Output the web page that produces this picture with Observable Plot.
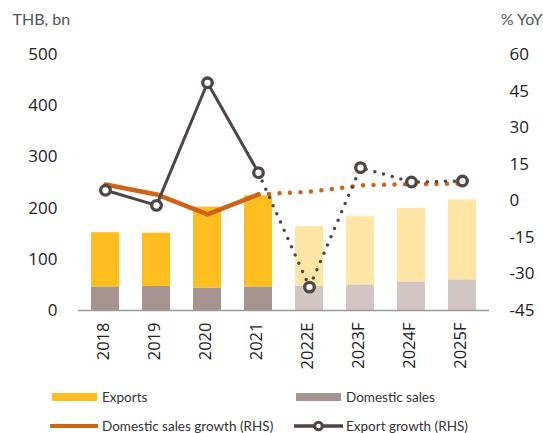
<!DOCTYPE html>
<html><head><meta charset="utf-8">
<script src="https://cdn.jsdelivr.net/npm/d3@7"></script>
<script src="https://cdn.jsdelivr.net/npm/@observablehq/plot@0.6"></script>
<style>
body{margin:0;background:#fff;font-family:Lato, "Noto Sans", sans-serif;}
#chart{width:543px;height:433px;position:relative;overflow:hidden;}
.legend{position:relative;height:53px;font-size:13.5px;color:#333;}
.item{position:absolute;height:20px;display:flex;align-items:center;white-space:nowrap;}
.sw{display:inline-block;margin-right:5px;}
</style></head><body><div id="chart"></div>
<script>
const years = ["2018","2019","2020","2021","2022E","2023F","2024F","2025F"];
const forecast = [false,false,false,false,true,true,true,true];
const exportsBn = [106,104,158,178,117,133,143,156];
const domesticBn = [46,47,44,46,47,50,56,60];
const domesticGrowth = [6.7,2.6,-5.6,2.6,3.7,6.3,6.8,7.0];
const exportGrowth = [4.3,-1.9,48.4,11.5,-35.4,13.6,7.7,8.1];
const leftTicks = [0,100,200,300,400,500];
const rightTicks = [-45,-30,-15,0,15,30,45,60];
const seriesNames = ["Exports","Domestic sales","Domestic sales growth (RHS)","Export growth (RHS)"];

const C = {exp:"#FEBE20", expF:"#FFE6A6", dom:"#A69490", domF:"#D3C5C3", orange:"#CF6317", dark:"#4F4646"};
const lMax = leftTicks[leftTicks.length-1], rMin = rightTicks[0], rMax = rightTicks[rightTicks.length-1];
const toLeft = v => (v - rMin) / (rMax - rMin) * lMax;
const toRight = v => Math.round(v / lMax * (rMax - rMin) + rMin);

const rows = years.map((year,i)=>({year, fc:forecast[i], exp:exportsBn[i], dom:domesticBn[i],
  dg:toLeft(domesticGrowth[i]), eg:toLeft(exportGrowth[i]), i}));
const actual = rows.filter(d=>d.i<=3), proj = rows.filter(d=>d.i>=3);
const tickFont = "'Open Sans', sans-serif";

const plot = Plot.plot({
  width:543, height:380,
  marginLeft:78, marginRight:54, marginTop:54, marginBottom:70,
  style:{fontFamily:"Lato, 'Noto Sans', sans-serif", fontSize:"16px", color:"#222", background:"#fff"},
  x:{domain:years, paddingInner:0.455, paddingOuter:0.22},
  y:{domain:[0,lMax]},
  color:{type:"identity"},
  marks:[
    Plot.barY(rows,{x:"year", y1:0, y2:"dom", fill:d=>d.fc?C.domF:C.dom}),
    Plot.barY(rows,{x:"year", y1:"dom", y2:d=>d.dom+d.exp, fill:d=>d.fc?C.expF:C.exp}),
    Plot.ruleY([0],{stroke:"#9a9a9a", strokeWidth:1.5}),
    Plot.axisY({anchor:"left", ticks:leftTicks, tickSize:0, tickPadding:21, label:null, fontSize:17, fontFamily:tickFont, fill:"#222"}),
    Plot.axisY({anchor:"right", ticks:rightTicks.map(toLeft), tickFormat:d=>`${toRight(d)}`, tickSize:0, tickPadding:20, label:null, fontSize:17, fontFamily:tickFont, fill:"#222"}),
    Plot.axisX({tickRotate:-90, tickSize:0, tickPadding:12, dx:-2, label:null, fontSize:16.5, fontFamily:tickFont, fill:"#222"}),
    Plot.line(actual,{x:"year", y:"dg", stroke:C.orange, strokeWidth:4.5}),
    Plot.line(proj,{x:"year", y:"dg", stroke:C.orange, strokeWidth:4.5, strokeDasharray:"0 10.5", strokeLinecap:"round"}),
    Plot.line(actual,{x:"year", y:"eg", stroke:C.dark, strokeWidth:3}),
    Plot.line(proj,{x:"year", y:"eg", stroke:C.dark, strokeWidth:3.5, strokeDasharray:"0 9", strokeLinecap:"round"}),
    Plot.dot(rows,{x:"year", y:"eg", r:4.8, fill:"#fff", stroke:C.dark, strokeWidth:3.3}),
    Plot.text(["THB, bn"],{frameAnchor:"top-left", dx:-66, dy:-41, fill:"#555", fontSize:16, textAnchor:"start"}),
    Plot.text(["% YoY"],{frameAnchor:"top-right", dx:53, dy:-41, fill:"#555", fontSize:16, textAnchor:"end"})
  ]
});
const chart = document.getElementById("chart");
chart.appendChild(plot);

const lg = document.createElement("div");
lg.className = "legend";
const items = [
  {left:52, top:7, sw:`<span class="sw" style="width:45px;height:8px;background:${C.exp}"></span>`},
  {left:296, top:7, sw:`<span class="sw" style="width:45px;height:8px;background:${C.dom}"></span>`},
  {left:50, top:36, sw:`<span class="sw" style="width:48px;height:4px;background:${C.orange};margin-right:4px"></span>`},
  {left:294, top:36, sw:`<svg class="sw" width="49" height="14" style="margin-right:3px"><line x1="0" y1="7" x2="49" y2="7" stroke="${C.dark}" stroke-width="3.5"/><circle cx="24.5" cy="7" r="3.8" fill="#fff" stroke="${C.dark}" stroke-width="3"/></svg>`}
];
items.forEach((it,k)=>{
  const d = document.createElement("div");
  d.className = "item";
  d.style.left = it.left+"px"; d.style.top = it.top+"px";
  d.innerHTML = it.sw + `<span>${seriesNames[k]}</span>`;
  lg.appendChild(d);
});
chart.appendChild(lg);
</script></body></html>
